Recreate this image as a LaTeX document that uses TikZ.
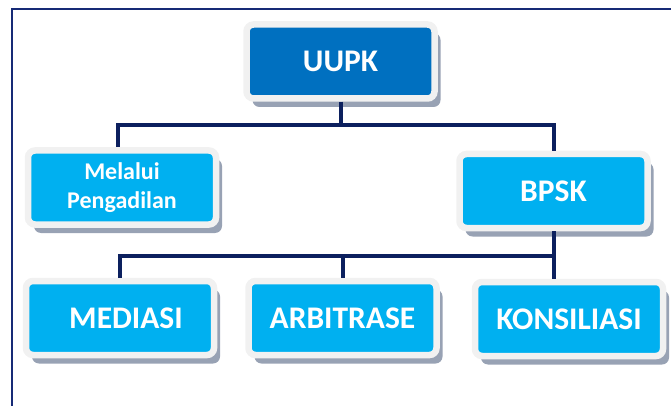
\documentclass[tikz,border=0pt]{standalone}
\usepackage{fontspec}
\setmainfont{Carlito}
\usepackage{tikz}
\usetikzlibrary{shapes,shadows}

\definecolor{uupkBlue}{RGB}{0,112,192}
\definecolor{lightBlue}{RGB}{0,176,240}
\definecolor{frameGray}{RGB}{241,241,241}
\definecolor{shadowGray}{RGB}{152,162,180}
\definecolor{lineNavy}{RGB}{12,32,94}
\definecolor{borderNavy}{RGB}{22,42,118}

\tikzstyle{block} = [rectangle, draw=frameGray, line width=6.5pt, rounded corners=7pt,
minimum width=188pt, minimum height=74pt, inner sep=0pt, text=white, align=center,
font=\bfseries\fontsize{31.5}{36}\selectfont,
drop shadow={shadow xshift=6pt, shadow yshift=-8.5pt, fill=shadowGray, opacity=1}]
\tikzstyle{Dblock} = [block, fill=uupkBlue]
\tikzstyle{Lblock} = [block, fill=lightBlue]
\tikzstyle{smallText} = [font=\bfseries\fontsize{24}{28.5}\selectfont]
\tikzstyle{line} = [draw=lineNavy, line width=4pt]
\tikzstyle{border} = [draw=borderNavy, line width=2pt]

\begin{document}
\begin{tikzpicture}[x=1pt, y=-1pt]

   \useasboundingbox (0,0) rectangle (671,406);

   % outer frame (cut off at right and bottom)
   \draw[border] (12,406) -- (12,9.5) -- (671,9.5);

   %% Blocks
   \node[Dblock] (uupk) at (340.5,61.5) {UUPK};

   \node[Lblock, smallText] (melalui) at (122,187.5) {Melalui\\Pengadilan};
   \node[Lblock] (bpsk) at (553.5,191) {BPSK};

   \node[Lblock] (mediasi) at (120,318) {\hskip12pt MEDIASI};
   \node[Lblock] (arbitrase) at (342.5,318) {ARBITRASE};
   \node[Lblock] (konsiliasi) at (569,319) {KONSILIASI};

   %% Lines
   \coordinate (topBar) at ([yshift=-23pt]uupk.south);
   \coordinate (lowBar) at ([yshift=-25pt]bpsk.south);

   \path[line] (uupk.south) -- (topBar) -| ([xshift=-4pt]melalui.north);
   \path[line] (topBar) -| (bpsk.north);

   \path[line] (bpsk.south) -- (bpsk.south |- konsiliasi.north);
   \path[line] (lowBar) -| (mediasi.north);
   \path[line] (arbitrase.north) -- (arbitrase.north |- lowBar);

\end{tikzpicture}
\end{document}
